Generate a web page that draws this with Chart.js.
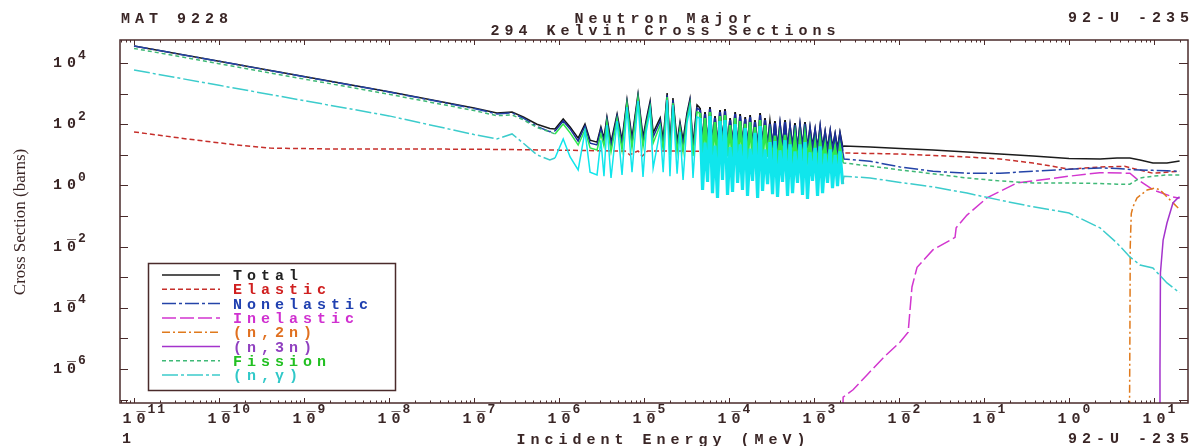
<!DOCTYPE html>
<html>
<head>
<meta charset="utf-8">
<script src="https://cdn.jsdelivr.net/npm/chart.js@4.4.1/dist/chart.umd.min.js"></script>
<style>
  html, body { margin: 0; padding: 0; background: #fff; }
  #wrap { width: 1193px; height: 446px; }
</style>
</head>
<body>
<div id="wrap"><canvas id="xs" width="1193" height="446"></canvas></div>
<script>
// shared energy grid (MeV) for total / nonelastic / fission / capture
var energy = [1e-11, 1e-10, 1e-9, 1e-8, 1e-7, 1.86e-7, 2.8e-7, 3.8e-7, 5.5e-7, 7.8e-7,
  8.97e-7, 1.12e-6, 1.35e-6, 1.68e-6, 2.02e-6, 2.32e-6, 2.8e-6, 3.11e-6, 3.38e-6, 3.66e-6, 4.09e-6, 4.82e-6, 5.51e-6, 6.3e-6, 7.22e-6, 8.5e-6,
  9.73e-6, 1.06e-5, 1.18e-5, 1.28e-5, 1.55e-5, 1.68e-5, 1.87e-5, 2.02e-5, 2.19e-5, 2.45e-5, 2.65e-5, 2.88e-5, 3.2e-5, 3.47e-5, 3.77e-5, 4.2e-5,
  4.56e-5, 4.88e-5, 5.22e-5, 5.59e-5, 5.97e-5, 6.39e-5, 6.84e-5, 7.32e-5, 7.83e-5, 8.38e-5, 8.97e-5, 9.6e-5, 1.03e-4, 1.1e-4, 1.18e-4, 1.26e-4,
  1.35e-4, 1.44e-4, 1.55e-4, 1.65e-4, 1.77e-4, 1.89e-4, 2.02e-4, 2.17e-4, 2.32e-4, 2.48e-4, 2.65e-4, 2.84e-4, 3.03e-4, 3.25e-4, 3.47e-4, 3.72e-4,
  3.98e-4, 4.26e-4, 4.56e-4, 4.88e-4, 5.22e-4, 5.59e-4, 5.97e-4, 6.39e-4, 6.84e-4, 7.32e-4, 7.83e-4, 8.38e-4, 8.97e-4, 9.6e-4, 1.03e-3, 1.1e-3,
  1.18e-3, 1.26e-3, 1.35e-3, 1.44e-3, 1.55e-3, 1.65e-3, 1.77e-3, 1.89e-3, 2.02e-3, 2.17e-3,
  2.25e-3, 4.56e-3, 0.0103, 0.0251, 0.063, 0.154, 0.377, 1.0, 2.32, 3.67, 5.2, 6.85, 9.7, 14.2, 20];

var total = [36000, 11400, 3600, 1150, 340, 232, 250, 172, 100, 72,
  70, 148, 81, 35, 102, 30, 26, 81, 35, 172, 26, 215, 30, 618, 35, 971,
  38, 137, 573, 52, 160, 30, 1047, 21, 718, 26, 118, 30, 232, 666, 21, 424,
  338, 26, 250, 19.4, 365, 22.5, 185, 18, 291, 24, 314, 19.4, 160, 21, 250, 16.7,
  215, 22.5, 172, 18, 200, 19.4, 137, 16.7, 232, 21, 160, 18, 118, 19.4, 127, 16.7,
  102, 19.4, 137, 16.7, 87, 18, 109, 15.5, 94, 18, 118, 15.5, 75, 18, 65, 15.5,
  81, 16.7, 56, 15.5, 60, 16.7, 48, 15.5, 52, 18,
  19.4, 18, 16, 14.4, 12.4, 10.6, 9.1, 7.6, 7.3, 7.9, 7.9, 6.8, 5.4, 5.4, 6.3];

var nonelastic = [35900, 11380, 3585, 1135, 325, 217, 235, 157, 85, 57,
  60, 127, 70, 28, 87, 24, 21, 70, 28, 148, 19.4, 185, 22.5, 532, 26, 835,
  28, 109, 457, 38, 127, 21, 900, 15.5, 618, 19.4, 94, 21, 185, 573, 15.5, 338,
  291, 18, 215, 14.4, 314, 16.7, 160, 13.3, 250, 18, 270, 14.4, 137, 15.5, 215, 12.4,
  185, 16.7, 148, 13.3, 172, 14.4, 118, 12.4, 200, 15.5, 137, 13.3, 102, 14.4, 109, 12.4,
  87, 14.4, 118, 12.4, 75, 13.3, 94, 11.5, 81, 13.3, 102, 11.5, 65, 13.3, 56, 11.5,
  70, 12.4, 48, 11.5, 52, 12.4, 41, 11.5, 44, 13.3,
  7.3, 6.2, 4.0, 2.9, 2.5, 2.5, 2.9, 3.4, 3.7, 3.6, 3.3, 3.2, 3.1, 3.0, 2.9];

var fission = [30000, 9500, 3000, 950, 280, 190, 200, 140, 78, 56,
  48, 102, 52, 21, 65, 16.7, 14.4, 48, 19.4, 118, 12.4, 148, 14.4, 457, 16.7, 718,
  18, 87, 365, 24, 94, 14.4, 774, 9.8, 493, 12.4, 75, 12.4, 148, 457, 9.1, 250,
  232, 7.9, 160, 5.8, 250, 9.5, 118, 5.4, 185, 7.3, 200, 8.8, 94, 6.3, 160, 5.0,
  127, 9.2, 102, 5.4, 118, 8.0, 81, 5.0, 137, 6.3, 94, 8.5, 40, 5.8, 42, 5.0,
  35, 8.2, 45, 5.0, 30, 7.5, 38, 4.6, 32, 5.4, 40, 7.8, 26, 5.4, 22, 4.6,
  28, 7.2, 20, 4.6, 21, 6.8, 17, 5.0, 18, 5.8,
  5.4, 4.3, 3.2, 2.4, 1.75, 1.4, 1.2, 1.2, 1.15, 1.1, 1.1, 1.75, 2.0, 2.2, 2.2];

var capture = [5900, 1870, 590, 187, 46, 33, 48, 24, 10, 6.8,
  7.9, 33, 8.5, 3.2, 60, 2.7, 2.2, 30, 2.0, 94, 1.75, 127, 2.2, 365, 2.7, 573,
  1.9, 56, 291, 3.7, 65, 2.7, 618, 2.0, 424, 2.4, 56, 1.5, 109, 338, 1.75, 172,
  160, 0.71, 25, 1.3, 185, 0.56, 20, 0.39, 127, 1.5, 137, 0.49, 18, 0.61, 102, 1.2,
  22, 0.71, 75, 0.45, 16, 1.4, 52, 0.39, 87, 0.66, 15, 1.1, 26, 0.52, 28, 0.42,
  14, 1.3, 30, 0.45, 22, 0.56, 13, 1.2, 22, 0.49, 26, 0.36, 12, 1.4, 17, 0.45,
  19, 0.56, 11, 1.2, 15, 0.82, 10, 0.95, 13, 1.1,
  2.0, 1.75, 1.25, 0.89, 0.56, 0.33, 0.2, 0.125, 0.041, 0.013, 0.0046, 0.0025, 0.002, 6.5e-4, 3.1e-4];

var elasticE = [1e-11, 4.2e-11, 1.6e-10, 4e-10, 2e-9, 1e-7, 1e-6, 3e-6, 6e-6, 6.8e-6, 8.5e-6, 9.5e-6, 1.1e-5, 1.5e-5, 1e-4, 2.2e-3,
  2.25e-3, 0.0103, 0.063, 0.154, 0.377, 1.0, 2.32, 4.5, 9.7, 20];
var elastic = [56, 33, 21, 16.6, 15.5, 15.3, 14.2, 13.6, 13.2, 10, 13.5, 9, 13.4, 13.3, 13, 12.6,
  11.5, 10.6, 8.5, 7.3, 5.4, 3.4, 4.0, 4.2, 2.5, 2.9];

var inelasticE = [2.19e-3, 2.2e-3, 2.88e-3, 4.2e-3, 6.5e-3, 0.0103, 0.0128, 0.0142, 0.0163, 0.025, 0.0456, 0.047, 0.063, 0.108, 0.244, 1.0, 2.3, 5.2, 6.3, 9.8, 16.7, 20];
var inelastic = [5e-8, 1.2e-7, 2.1e-7, 6.4e-7, 2.3e-6, 7.6e-6, 1.6e-5, 4.8e-4, 2.1e-3, 7.8e-3, 0.020, 0.041, 0.107, 0.39, 1.2, 2.0, 2.6, 2.5, 1.6, 0.71, 0.42, 0.38];

var n2nE = [5.15, 5.2, 5.25, 5.4, 5.66, 6.3, 8.3, 10.3, 11.8, 14.2, 20.2];
var n2n = [5e-8, 1e-5, 0.01, 0.12, 0.2, 0.39, 0.71, 0.82, 0.71, 0.42, 0.16];

var n3nE = [11.7, 11.75, 11.9, 12.8, 14.2, 16.7, 19.1, 20];
var n3n = [5e-8, 1e-6, 1.4e-3, 0.0164, 0.059, 0.266, 0.39, 0.42];

var labels = ['Total', 'Elastic', 'Nonelastic', 'Inelastic', '(n,2n)', '(n,3n)', 'Fission', '(n,\u03b3)'];
var xTickExp = [-11, -10, -9, -8, -7, -6, -5, -4, -3, -2, -1, 0, 1];
var yTickExp = [-7, -6, -5, -4, -3, -2, -1, 0, 1, 2, 3, 4];
var yLabelExp = [4, 2, 0, -2, -4, -6];

// axis limits (read from the frame edges)
var XMIN = 6.84e-12, XMAX = 25.1;
var YMIN = 7.74e-8, YMAX = 56500;
// resolved resonance range and its dense upper part
var RES_LO = 8.9e-7, DENSE_LO = 4.5e-5, RES_HI = 2.2e-3;

var lineColors = ['#1c1c1c', '#c62f2b', '#2444a8', '#d236cf', '#e07a1c', '#a433cc', '#3fb977', '#3ccccc'];
var resColors = ['#141414', null, '#1b2f9c', null, null, null, '#2fe84e', '#10e6ec'];
var resWidths = [1.8, 0, 2.2, 0, 0, 0, 2.6, 3.2];
var textColors = ['#222222', '#d02020', '#2040b0', '#d030d0', '#e07020', '#9040c0', '#22c022', '#30c8c8'];
var dashes = [[], [5, 3], [14, 3, 3, 3], [14, 4], [8, 3, 2, 3], [], [4, 3], [16, 3, 3, 3]];

var axisColor = '#4a2b2b';
var inkColor = '#3a2626';
var MONO = '"Liberation Mono", "DejaVu Sans Mono", monospace';
var FONT = 'bold 15px ' + MONO;
var SP = 5;

function pts(xs, ys) {
  return xs.map(function (x, i) { return { x: x, y: ys[i] }; });
}
function inRes(c) {
  return c.p0.parsed.x >= RES_LO && c.p1.parsed.x <= RES_HI;
}
function inDense(c) {
  return c.p0.parsed.x >= DENSE_LO && c.p1.parsed.x <= RES_HI;
}
function resSeg(color, width) {
  return {
    borderDash: function (c) { return inRes(c) ? [] : undefined; },
    borderColor: function (c) { return inRes(c) ? color : undefined; },
    borderWidth: function (c) { return inDense(c) ? width : undefined; }
  };
}

var sets = [
  pts(energy, total), pts(elasticE, elastic), pts(energy, nonelastic), pts(inelasticE, inelastic),
  pts(n2nE, n2n), pts(n3nE, n3n), pts(energy, fission), pts(energy, capture)
];

var datasets = sets.map(function (d, i) {
  var ds = {
    label: labels[i],
    data: d,
    borderColor: lineColors[i],
    borderDash: dashes[i],
    borderWidth: 1.5,
    order: 7 - i
  };
  if (resColors[i]) ds.segment = resSeg(resColors[i], resWidths[i]);
  return ds;
});

function spaced(ctx, s, x, y, align, font, sp, color) {
  ctx.font = font;
  ctx.letterSpacing = '0px';
  var w = ctx.measureText(s).width + sp * (s.length - 1);
  ctx.letterSpacing = sp + 'px';
  ctx.fillStyle = color;
  ctx.textAlign = 'left';
  ctx.textBaseline = 'alphabetic';
  var x0 = align === 'center' ? x - w / 2 : (align === 'right' ? x - w : x);
  ctx.fillText(s, x0, y);
  ctx.letterSpacing = '0px';
  return w;
}

// "10" with the exponent raised; negative exponents get the bar over the 0
function powLabel(ctx, e, x0, base, supBase) {
  var w = spaced(ctx, '10', x0, base, 'left', FONT, SP, inkColor);
  if (e < 0) {
    spaced(ctx, '\u00af', x0 + w - 9, base - 1, 'left', FONT, 0, inkColor);
  }
  spaced(ctx, String(Math.abs(e)), x0 + w + 2, supBase, 'left', 'bold 13px ' + MONO, 2, inkColor);
}

var decor = {
  id: 'decor',
  afterDraw: function (chart) {
    var ctx = chart.ctx, a = chart.chartArea;
    var xs = chart.scales.x, ys = chart.scales.y;
    ctx.save();

    // frame
    ctx.strokeStyle = axisColor;
    ctx.lineWidth = 1.5;
    ctx.strokeRect(a.left, a.top, a.right - a.left, a.bottom - a.top);

    // x ticks, top and bottom
    ctx.lineWidth = 1;
    ctx.beginPath();
    for (var e = -12; e <= 1; e++) {
      for (var m = 1; m <= 9; m++) {
        var v = m * Math.pow(10, e);
        if (v < XMIN || v > XMAX) continue;
        var px = Math.round(xs.getPixelForValue(v)) + 0.5;
        var len = m === 1 ? 5 : 2.5;
        ctx.moveTo(px, a.bottom); ctx.lineTo(px, a.bottom - len);
        ctx.moveTo(px, a.top); ctx.lineTo(px, a.top + len);
      }
    }
    // y ticks, left and right
    yTickExp.forEach(function (k) {
      var py = Math.round(ys.getPixelForValue(Math.pow(10, k))) + 0.5;
      ctx.moveTo(a.left, py); ctx.lineTo(a.left + 8, py);
      ctx.moveTo(a.right, py); ctx.lineTo(a.right - 9, py);
    });
    ctx.stroke();

    // tick labels
    xTickExp.forEach(function (k) {
      var px = xs.getPixelForValue(Math.pow(10, k));
      powLabel(ctx, k, px - 11.5, 423, 413);
    });
    yLabelExp.forEach(function (k) {
      var py = ys.getPixelForValue(Math.pow(10, k));
      powLabel(ctx, k, 53, py + 4, py - 4.5);
    });

    // headings
    spaced(ctx, 'MAT 9228', 121, 23, 'left', FONT, SP, inkColor);
    spaced(ctx, '92-U -235', 1189, 22, 'right', FONT, SP, inkColor);
    spaced(ctx, 'Neutron Major', 663, 23, 'center', FONT, SP, inkColor);
    spaced(ctx, '294 Kelvin Cross Sections', 663, 35, 'center', FONT, SP, inkColor);
    spaced(ctx, '1', 122, 443, 'left', FONT, SP, inkColor);
    spaced(ctx, 'Incident Energy (MeV)', 661, 444, 'center', FONT, SP, inkColor);
    spaced(ctx, '92-U -235', 1189, 443, 'right', FONT, SP, inkColor);

    // y title
    ctx.save();
    ctx.translate(25, 222);
    ctx.rotate(-Math.PI / 2);
    ctx.font = '17px "Liberation Serif", "DejaVu Serif", serif';
    ctx.fillStyle = inkColor;
    ctx.textAlign = 'center';
    ctx.fillText('Cross Section (barns)', 0, 0);
    ctx.restore();

    // legend box
    var lx = 148, ly = 263, lw = 247, lh = 127;
    ctx.fillStyle = '#ffffff';
    ctx.fillRect(lx, ly, lw, lh);
    ctx.strokeStyle = axisColor;
    ctx.lineWidth = 1.5;
    ctx.strokeRect(lx + 0.5, ly + 0.5, lw, lh);
    chart.data.datasets.forEach(function (ds, i) {
      var ry = 275 + i * 14.3;
      ctx.strokeStyle = ds.borderColor;
      ctx.lineWidth = 1.5;
      ctx.setLineDash(ds.borderDash);
      ctx.beginPath();
      ctx.moveTo(162, ry); ctx.lineTo(220, ry);
      ctx.stroke();
      ctx.setLineDash([]);
      spaced(ctx, ds.label, 233, ry + 5, 'left', FONT, SP, textColors[i]);
    });

    ctx.restore();
  }
};

var chart = new Chart(document.getElementById('xs'), {
  type: 'line',
  data: { datasets: datasets },
  options: {
    responsive: false,
    animation: false,
    devicePixelRatio: 1,
    layout: { padding: { left: 120, top: 40, right: 5, bottom: 43 } },
    elements: { point: { radius: 0 }, line: { tension: 0 } },
    plugins: { legend: { display: false }, tooltip: { enabled: false } },
    scales: {
      x: { type: 'logarithmic', display: false, min: XMIN, max: XMAX },
      y: { type: 'logarithmic', display: false, min: YMIN, max: YMAX }
    }
  },
  plugins: [decor]
});
</script>
</body>
</html>
